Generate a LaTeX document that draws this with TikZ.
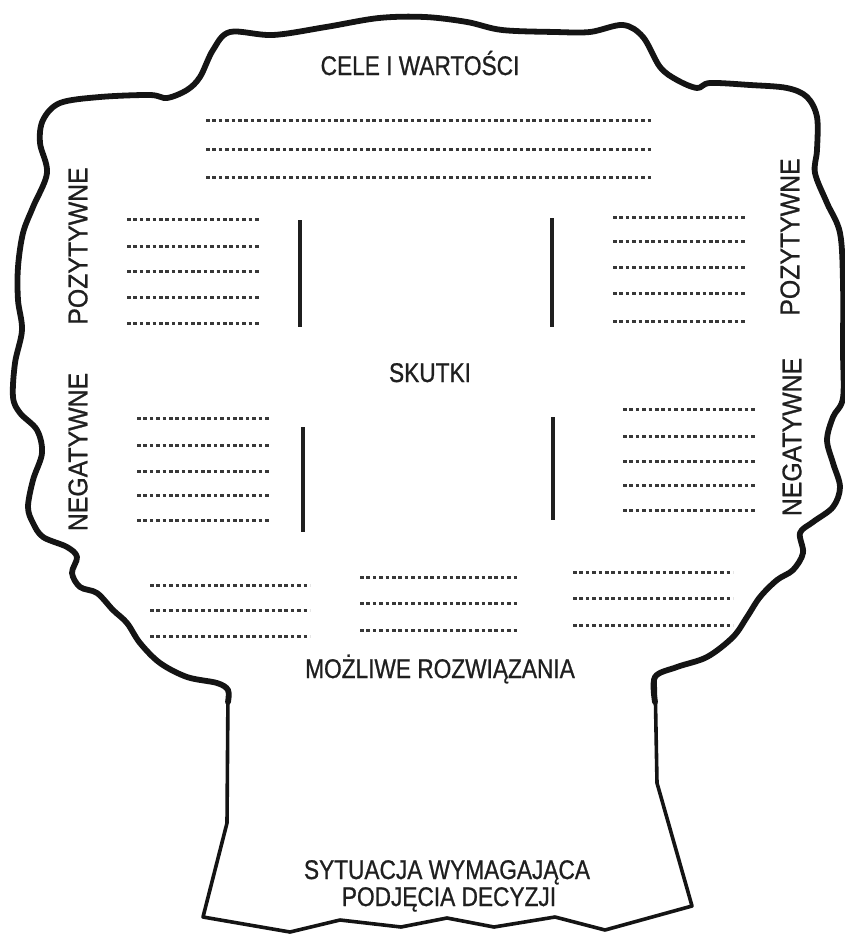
\documentclass[tikz,border=0pt]{standalone}
\usepackage{fontspec}
\newfontfamily\labfont[FakeStretch=0.84,FakeBold=0.8]{Liberation Sans}
\newfontfamily\vlabfont[FakeStretch=0.92,FakeBold=0.8]{Liberation Sans}
\begin{document}
\begin{tikzpicture}[x=1pt,y=-1pt,
  outline/.style={line width=5.8pt, line join=round, line cap=round, black!92},
  trunkline/.style={line width=3.6pt, line join=round, black!92},
  dotrow/.style={line width=3pt, dash pattern=on 3.6pt off 2.8pt, black!78},
  bar/.style={line width=4.5pt, black!88},
  lab/.style={font=\labfont\fontsize{27}{30}\selectfont, text=black!88, inner sep=0pt, anchor=base},
  vlab/.style={font=\vlabfont\fontsize{27}{30}\selectfont, text=black!88, inner sep=0pt, rotate=90}]
\useasboundingbox (0,0) rectangle (845,934);
\fill[white] (0,0) rectangle (845,934);

% crown outline
\draw[outline] plot[smooth, tension=0.55] coordinates {
 (228,702) (228,690) (217,683) (187,677) (160,663) (140,643) (127,623) (113,610)
 (97,593) (80,587) (72,573) (77,557) (67,547) (43,537) (33,523) (28,507) (33,480)
 (42,453) (37,430) (20,413) (13,397) (15,363) (22,330) (18,300) (18,267) (23,233)
 (33,207) (47,173) (40,143) (43,120) (60,103) (100,97) (150,95) (167,98) (187,90)
 (200,77) (213,50) (230,32) (273,35) (326,27) (379,18) (425,17) (467,22) (502,30)
 (555,32) (590,32) (623,25) (643,37) (660,67) (677,80) (697,88) (710,83) (750,85)
 (787,88) (807,97) (817,117) (817,150) (815,173) (827,203) (840,233) (843,283)
 (843,350) (843,398) (833,417) (827,440) (833,463) (840,487) (833,507) (813,522)
 (800,533) (803,553) (793,570) (777,580) (760,597) (747,617) (733,637) (707,657)
 (677,667) (655,677) (655,702)};

% trunk
\draw[trunkline] (228,690) -- (227,823) -- (203,917) -- (290,932) -- (340,920)
 -- (401,927) -- (447,918) -- (494,927) -- (555,917) -- (605,930) -- (692,906)
 -- (657,783) -- (655,677);

% dotted rows
\foreach \y in {120,149,177} \draw[dotrow] (206,\y) -- (652,\y);
\foreach \y in {219,246,271,297,323} \draw[dotrow] (127,\y) -- (260,\y);
\foreach \y in {418,445,471,495,520} \draw[dotrow] (137,\y) -- (270,\y);
\foreach \y in {217,241,267,293,321} \draw[dotrow] (613,\y) -- (747,\y);
\foreach \y in {409,436,461,485,510} \draw[dotrow] (623,\y) -- (757,\y);
\foreach \y in {585,610,636} \draw[dotrow] (150,\y) -- (310,\y);
\foreach \y in {577,603,630} \draw[dotrow] (360,\y) -- (517,\y);
\foreach \y in {572,598,625} \draw[dotrow] (573,\y) -- (733,\y);

% vertical bars
\draw[bar] (300,220) -- (300,327);
\draw[bar] (552,218) -- (552,327);
\draw[bar] (303,427) -- (303,532);
\draw[bar] (553,417) -- (553,520);

% labels
\node[lab] (cele) at (420,75) {CELE I WARTOŚCI};
\node[lab] (skutki) at (430,382) {SKUTKI};
\node[lab] (mozliwe) at (440,678) {MOŻLIWE ROZWIĄZANIA};
\node[lab] (sytuacja) at (447,879) {SYTUACJA WYMAGAJĄCA};
\node[lab] (podjecia) at (449,906) {PODJĘCIA DECYZJI};
\node[vlab] (pozL) at (78,246) {POZYTYWNE};
\node[vlab] (negL) at (78,452) {NEGATYWNE};
\node[vlab] (pozR) at (790,237) {POZYTYWNE};
\node[vlab] (negR) at (792,437) {NEGATYWNE};
\end{tikzpicture}
\end{document}
